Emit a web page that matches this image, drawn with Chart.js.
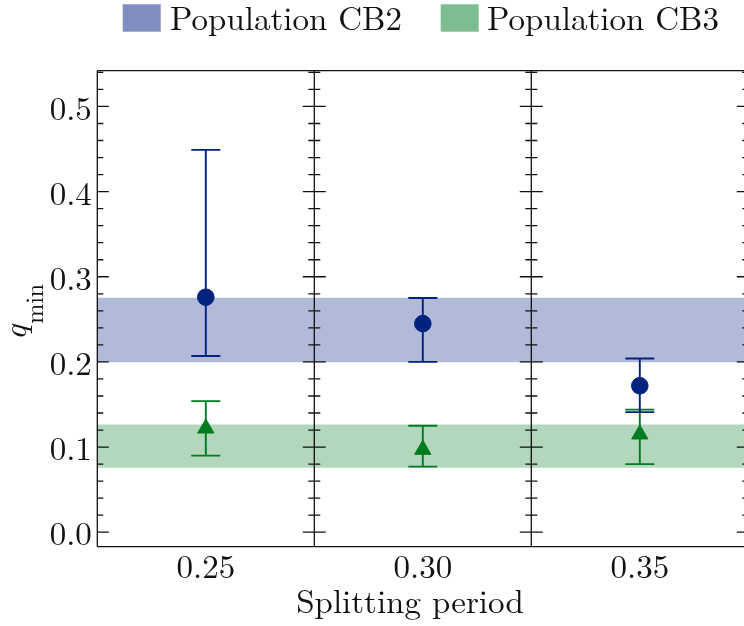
<!DOCTYPE html>
<html>
<head>
<meta charset="utf-8">
<title>q_min vs splitting period</title>
<script src="https://cdn.jsdelivr.net/npm/chart.js@4.4.1/dist/chart.umd.min.js"></script>
<style>
  html, body { margin: 0; padding: 0; background: #fff; overflow: hidden; }
  canvas { display: block; }
</style>
</head>
<body>
<canvas id="chart" width="769" height="626"></canvas>
<script>
/* -------- data -------- */

// one panel per splitting period
const periods = ["0.25", "0.30", "0.35"];

// q_min per population, with lower / upper error bounds
const cb2Value = [0.276, 0.245, 0.172];
const cb2Low   = [0.207, 0.200, 0.141];
const cb2High  = [0.449, 0.275, 0.204];

const cb3Value = [0.122, 0.097, 0.115];
const cb3Low   = [0.090, 0.077, 0.080];
const cb3High  = [0.154, 0.125, 0.144];

// accepted q_min range of each population (horizontal bands)
const cb2Band = [0.200, 0.275];
const cb3Band = [0.076, 0.126];

// y axis
const yMajorTicks = [0.0, 0.1, 0.2, 0.3, 0.4, 0.5];
const yMinorStep = 0.02;
const yRange = [-0.017, 0.542];

/* -------- style -------- */

const SERIF = '"Latin Modern Roman", "CMU Serif", "Liberation Serif", serif';
const FONT_PX = 33;
const INK = "#111";
const BLUE = "#00237f";
const GREEN = "#007b1f";
const BLUE_BAND = "rgba(0, 28, 128, 0.3)";
const GREEN_BAND = "rgba(0, 122, 35, 0.3)";
const BLUE_KEY = "rgba(0, 28, 128, 0.5)";
const GREEN_KEY = "rgba(0, 122, 35, 0.5)";

Chart.defaults.font.family = SERIF;
Chart.defaults.color = INK;

function isMajor(v){
  return Math.abs(v * 10 - Math.round(v * 10)) < 1e-6;
}

// minor + major tick values inside the y range
const yTickValues = [];
for(let v = yMajorTicks[0]; v <= yRange[1] + 1e-9; v += yMinorStep){
  yTickValues.push(Math.round(v * 100) / 100);
}

/* -------- plugins -------- */

// vertical error bars with caps, drawn under each marker dataset
const errorBars = {
  id: "errorBars",
  beforeDatasetDraw(chart, args){
    const ds = chart.data.datasets[args.index];
    if(!ds.errLow) return;
    const {ctx, scales: {x, y}} = chart;
    const cap = 14.5;
    ctx.save();
    ctx.strokeStyle = ds.borderColor;
    ctx.lineWidth = 1.9;
    ds.data.forEach((v, i)=>{
      const px = x.getPixelForValue(i);
      const lo = y.getPixelForValue(ds.errLow[i]);
      const hi = y.getPixelForValue(ds.errHigh[i]);
      ctx.beginPath();
      ctx.moveTo(px, lo); ctx.lineTo(px, hi);
      ctx.moveTo(px - cap, lo); ctx.lineTo(px + cap, lo);
      ctx.moveTo(px - cap, hi); ctx.lineTo(px + cap, hi);
      ctx.stroke();
    });
    ctx.restore();
  }
};

// panel frames with inward y ticks on every panel edge
const panelFrame = {
  id: "panelFrame",
  afterDatasetsDraw(chart){
    const {ctx, chartArea: a, scales: {x, y}} = chart;
    const edges = [a.left];
    for(let i = 0; i < periods.length - 1; i++){
      edges.push((x.getPixelForValue(i) + x.getPixelForValue(i + 1)) / 2);
    }
    edges.push(a.right);

    ctx.save();
    ctx.strokeStyle = INK;
    ctx.lineWidth = 1.3;
    ctx.beginPath();
    ctx.moveTo(a.left, a.top); ctx.lineTo(a.right, a.top);
    ctx.moveTo(a.left, a.bottom); ctx.lineTo(a.right, a.bottom);
    edges.forEach((ex, k)=>{
      ctx.moveTo(ex, a.top); ctx.lineTo(ex, a.bottom);
      y.ticks.forEach(t=>{
        const py = y.getPixelForValue(t.value);
        const len = isMajor(t.value) ? 11.5 : 6;
        if(k > 0){ ctx.moveTo(ex - len, py); ctx.lineTo(ex, py); }
        if(k < edges.length - 1){ ctx.moveTo(ex, py); ctx.lineTo(ex + len, py); }
      });
    });
    ctx.stroke();
    ctx.restore();
  }
};

// legend row, axis titles
const legendSlots = [
  { box: 122.7, text: 170 },
  { box: 440.7, text: 487 }
];

const titles = {
  id: "titles",
  afterDraw(chart){
    const ctx = chart.ctx;
    ctx.save();
    ctx.fillStyle = INK;
    ctx.textBaseline = "alphabetic";
    ctx.textAlign = "left";

    // legend: the two bands
    const bands = chart.data.datasets.filter(d=>d.keyColor);
    bands.forEach((d, i)=>{
      const s = legendSlots[i];
      ctx.fillStyle = d.keyColor;
      ctx.fillRect(s.box, 4.3, 38, 27.4);
      ctx.fillStyle = INK;
      ctx.font = `${FONT_PX}px ${SERIF}`;
      ctx.fillText(d.label, s.text, 29.5);
    });

    // x title
    ctx.textAlign = "center";
    ctx.font = `${FONT_PX}px ${SERIF}`;
    ctx.fillText("Splitting period", 410, 613.3);

    // y title: q_min, rotated
    ctx.textAlign = "left";
    ctx.translate(26, 340);
    ctx.rotate(-Math.PI / 2);
    ctx.font = `italic ${FONT_PX}px ${SERIF}`;
    ctx.fillText("q", 0, 0);
    const qw = ctx.measureText("q").width;
    ctx.font = `24px ${SERIF}`;
    ctx.fillText("min", qw + 1, 17);
    ctx.restore();
  }
};

/* -------- chart -------- */

function band(range){
  return periods.map(()=>[range[0], range[1]]);
}

new Chart(document.getElementById("chart"), {
  type: "bar",
  data: {
    labels: periods,
    datasets: [
      {
        type: "line", label: "CB2", data: cb2Value,
        errLow: cb2Low, errHigh: cb2High,
        showLine: false, order: 1,
        pointStyle: "circle", pointRadius: 8.3,
        backgroundColor: BLUE, borderColor: BLUE, pointBorderWidth: 1
      },
      {
        type: "line", label: "CB3", data: cb3Value,
        errLow: cb3Low, errHigh: cb3High,
        showLine: false, order: 1,
        pointStyle: "triangle", pointRadius: 9.4,
        backgroundColor: GREEN, borderColor: GREEN, pointBorderWidth: 1
      },
      {
        label: "Population CB2", data: band(cb2Band), keyColor: BLUE_KEY,
        backgroundColor: BLUE_BAND, borderWidth: 0, order: 2,
        grouped: false, barPercentage: 1, categoryPercentage: 1
      },
      {
        label: "Population CB3", data: band(cb3Band), keyColor: GREEN_KEY,
        backgroundColor: GREEN_BAND, borderWidth: 0, order: 2,
        grouped: false, barPercentage: 1, categoryPercentage: 1
      }
    ]
  },
  options: {
    responsive: false,
    animation: false,
    events: [],
    layout: { padding: { top: 70.7, right: 20.7, left: 0, bottom: 0 } },
    plugins: { legend: { display: false }, tooltip: { enabled: false } },
    scales: {
      x: {
        type: "category",
        offset: true,
        afterFit: s=>{ s.height = 79.3; },
        grid: { display: false, drawTicks: false },
        border: { display: false },
        ticks: { padding: 1, maxRotation: 0, font: { size: FONT_PX } }
      },
      y: {
        min: yRange[0],
        max: yRange[1],
        bounds: "data",
        afterBuildTicks: s=>{ s.ticks = yTickValues.map(v=>({ value: v })); },
        afterFit: s=>{ s.width = 97.3; },
        grid: { display: false, drawTicks: false },
        border: { display: false },
        ticks: {
          autoSkip: false,
          padding: 5.5,
          labelOffset: 3,
          font: { size: FONT_PX },
          callback: v=>isMajor(v) ? v.toFixed(1) : ""
        }
      }
    }
  },
  plugins: [errorBars, panelFrame, titles]
});
</script>
</body>
</html>
